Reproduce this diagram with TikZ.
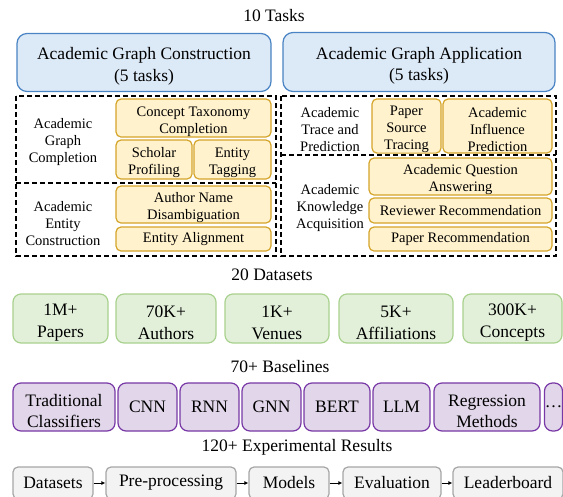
\documentclass[tikz,border=0pt]{standalone}
\usepackage{fontspec}
\setmainfont{Liberation Serif}
\newfontfamily\tnr{Liberation Serif}
\usetikzlibrary{arrows.meta}
\definecolor{bfill}{HTML}{DCE9F7}
\definecolor{bdraw}{HTML}{4A84C4}
\definecolor{yfill}{HTML}{FFF2CC}
\definecolor{ydraw}{HTML}{D4A52A}
\definecolor{gfill}{HTML}{E2F0D9}
\definecolor{gdraw}{HTML}{A9D18E}
\definecolor{pfill}{HTML}{E2D7EA}
\definecolor{pdraw}{HTML}{7838A6}
\definecolor{kfill}{HTML}{F3F3F3}
\definecolor{kdraw}{HTML}{A6A6A6}
\newcommand{\bigf}{\tnr\fontsize{17.5}{21.5}\selectfont}
\newcommand{\smf}{\tnr\fontsize{14.5}{17.2}\selectfont}
\newcommand{\Tup}{\rule{0pt}{1.15em}}
\tikzset{
  box/.style={inner sep=0pt, align=center, line width=1.2pt},
  bluebox/.style={box, draw=bdraw, fill=bfill, rounded corners=10pt, font=\bigf},
  yelbox/.style={box, draw=ydraw, fill=yfill, rounded corners=5pt, font=\smf},
  grnbox/.style={box, draw=gdraw, fill=gfill, rounded corners=8pt, font=\bigf, minimum height=49pt},
  purbox/.style={box, draw=pdraw, fill=pfill, rounded corners=8pt, font=\bigf, minimum height=48pt},
  grybox/.style={box, draw=kdraw, fill=kfill, rounded corners=5pt, font=\bigf, minimum height=32pt},
  lbl/.style={inner sep=0pt, align=center, font=\smf},
  heading/.style={inner sep=0pt, font=\bigf},
  dashbox/.style={draw, line width=1.2pt, dash pattern=on 5pt off 3pt},
  flow/.style={line width=0.9pt, -{Latex[length=4pt,width=4pt]}}
}
\begin{document}
\begin{tikzpicture}[x=1pt,y=-1pt]
\path[use as bounding box, clip] (0,0) rectangle (563,496);
% headings
\node[heading] (h1) at (274,16) {10 Tasks};
\node[heading] (h2) at (272,275) {20 Datasets};
\node[heading] (h3) at (280,367) {70+ Baselines};
\node[heading] (h4) at (297,447) {120+ Experimental Results};
% blue
\node[bluebox, minimum width=254pt, minimum height=58pt] (agc) at (144,62.5) {\Tup Academic Graph Construction\\(5 tasks)};
\node[bluebox, minimum width=272pt, minimum height=59pt] (aga) at (419,62) {\Tup Academic Graph Application\\(5 tasks)};
% dashed groups
\draw[dashbox] (16,96) rectangle (276,256);
\draw[dashbox] (16,183) -- (276,183);
\draw[dashbox] (281,96) rectangle (556,256);
\draw[dashbox] (281,155) -- (556,155);
% left group
\node[lbl] (lagc) at (63,139) {\Tup Academic\\Graph\\Completion};
\node[lbl] (laec) at (63,220) {\Tup Academic\\Entity\\Construction};
\node[yelbox, minimum width=155pt, minimum height=38pt] (ctc) at (193.5,118) {\Tup Concept Taxonomy\\Completion};
\node[yelbox, minimum width=76pt, minimum height=39pt] (sp) at (154,159.5) {\Tup Scholar\\Profiling};
\node[yelbox, minimum width=77pt, minimum height=39pt] (et) at (232.5,159.5) {\Tup Entity\\Tagging};
\node[yelbox, minimum width=155pt, minimum height=37pt] (and) at (193.5,204.5) {\Tup Author Name\\Disambiguation};
\node[yelbox, minimum width=155pt, minimum height=24pt] (ea) at (193.5,239) {Entity Alignment};
% right group
\node[lbl] (latp) at (330,126) {\Tup Academic\\Trace and\\Prediction};
\node[lbl] (laka) at (330,205) {\Tup Academic\\Knowledge\\Acquisition};
\node[yelbox, minimum width=69pt, minimum height=54pt] (pst) at (406.5,126) {\Tup Paper\\Source\\Tracing};
\node[yelbox, minimum width=109pt, minimum height=54pt] (aip) at (497.5,126) {\Tup Academic\\Influence\\Prediction};
\node[yelbox, minimum width=183pt, minimum height=37pt] (aqa) at (460.5,176.5) {\Tup Academic Question\\Answering};
\node[yelbox, minimum width=183pt, minimum height=25pt] (rr) at (460.5,210.5) {Reviewer Recommendation};
\node[yelbox, minimum width=183pt, minimum height=24pt] (pr) at (460.5,239) {Paper Recommendation};
% datasets
\node[grnbox, minimum width=95pt] (d1) at (60.5,318.5) {\Tup 1M+\\Papers};
\node[grnbox, minimum width=100pt] (d2) at (166,318.5) {\Tup 70K+\\Authors};
\node[grnbox, minimum width=104pt] (d3) at (277,318.5) {\Tup 1K+\\Venues};
\node[grnbox, minimum width=114pt] (d4) at (396,318.5) {\Tup 5K+\\Affiliations};
\node[grnbox, minimum width=99pt] (d5) at (512.5,318.5) {\Tup 300K+\\Concepts};
% baselines
\node[purbox, minimum width=102pt] (b1) at (64,407) {\Tup Traditional\\Classifiers};
\node[purbox, minimum width=59pt] (b2) at (147.5,407) {CNN};
\node[purbox, minimum width=59pt] (b3) at (209.5,407) {RNN};
\node[purbox, minimum width=59pt] (b4) at (271.5,407) {GNN};
\node[purbox, minimum width=66pt] (b5) at (337,407) {BERT};
\node[purbox, minimum width=57pt] (b6) at (401.5,407) {LLM};
\node[purbox, minimum width=106pt] (b7) at (487,407) {\Tup Regression\\Methods};
\node[purbox, minimum width=18pt] (b8) at (553.5,407) {\makebox[0pt]{\dots}};
% pipeline
\node[grybox, minimum width=80pt] (p1) at (53,483) {Datasets};
\node[grybox, minimum width=130pt] (p2) at (171,483) {Pre-processing};
\node[grybox, minimum width=80pt] (p3) at (289,483) {Models};
\node[grybox, minimum width=98pt] (p4) at (392,483) {Evaluation};
\node[grybox, minimum width=110pt] (p5) at (508,483) {Leaderboard};
\draw[flow] (p1) -- (p2);
\draw[flow] (p2) -- (p3);
\draw[flow] (p3) -- (p4);
\draw[flow] (p4) -- (p5);
\end{tikzpicture}
\end{document}
